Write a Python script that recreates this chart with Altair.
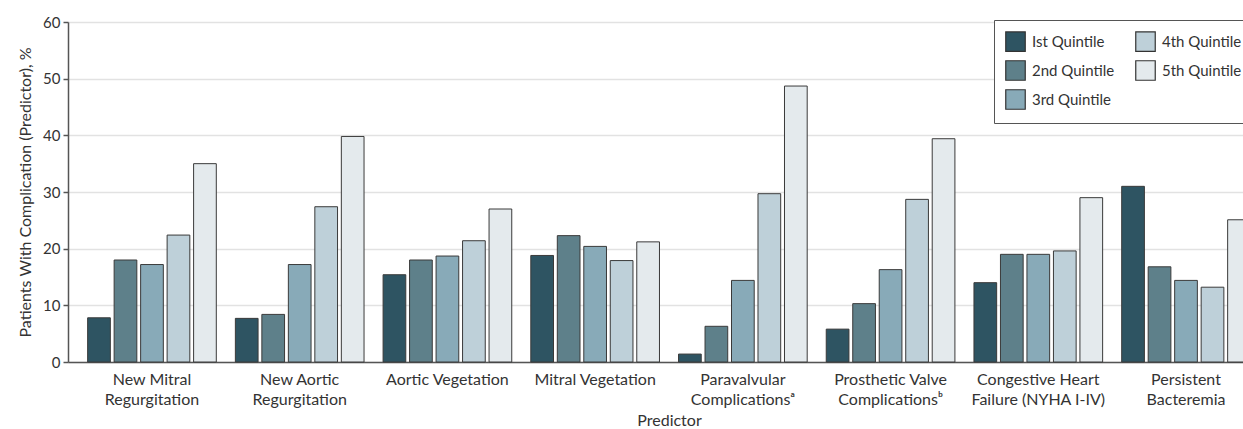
import altair as alt
import pandas as pd

# Predictor categories ("|" marks a line break in the axis label)
predictors = [
    "New Mitral|Regurgitation",
    "New Aortic|Regurgitation",
    "Aortic Vegetation",
    "Mitral Vegetation",
    "Paravalvular|Complications\u1d43",
    "Prosthetic Valve|Complications\u1d47",
    "Congestive Heart|Failure (NYHA I-IV)",
    "Persistent|Bacteremia",
]

quintiles = ["Ist Quintile", "2nd Quintile", "3rd Quintile", "4th Quintile", "5th Quintile"]

# Percent of patients with the complication, per predictor, quintiles 1-5
q1 = [7.8, 7.7, 15.4, 18.8, 1.4, 5.8, 14.0, 31.0]
q2 = [18.0, 8.4, 18.0, 22.3, 6.3, 10.3, 19.0, 16.8]
q3 = [17.2, 17.2, 18.7, 20.4, 14.4, 16.3, 19.0, 14.4]
q4 = [22.4, 27.4, 21.4, 17.9, 29.7, 28.7, 19.6, 13.2]
q5 = [35.0, 39.8, 27.0, 21.2, 48.7, 39.4, 29.0, 25.1]

colors = ["#2e5462", "#5e808a", "#88aab8", "#bed0d9", "#e4eaed"]

rows = []
for qi, series in enumerate([q1, q2, q3, q4, q5]):
    for p, v in zip(predictors, series):
        rows.append({"Predictor": p, "Quintile": quintiles[qi], "Value": v})
df = pd.DataFrame(rows)

FONT = "Lato, sans-serif"

bars = alt.Chart(df).mark_bar(stroke="#3a3a3a", strokeWidth=1).encode(
    x=alt.X(
        "Predictor:N",
        sort=predictors,
        scale=alt.Scale(range=[0, 1202], paddingInner=0.129, paddingOuter=0.133),
        axis=alt.Axis(
            title="Predictor",
            labelExpr="split(datum.label, '|')",
            labelAngle=0,
            labelFontSize=16,
            labelLineHeight=20,
            labelPadding=9,
            labelColor="#333333",
            ticks=False,
            domainColor="#555555",
            domainWidth=1.5,
            titleFontSize=16,
            titleFontWeight="normal",
            titleColor="#333333",
            titlePadding=5,
            grid=False,
        ),
    ),
    xOffset=alt.XOffset(
        "Quintile:N",
        sort=quintiles,
        scale=alt.Scale(paddingInner=0.143, paddingOuter=0),
    ),
    y=alt.Y(
        "Value:Q",
        scale=alt.Scale(domain=[0, 60], nice=False),
        axis=alt.Axis(
            title="Patients With Complication (Predictor), %",
            values=[0, 10, 20, 30, 40, 50, 60],
            tickSize=5,
            tickColor="#555555",
            tickWidth=1.5,
            domainColor="#555555",
            domainWidth=1.5,
            labelFontSize=15,
            labelPadding=3,
            labelColor="#333333",
            gridColor="#e2e2e2",
            gridWidth=1.5,
            titleFontSize=16,
            titleFontWeight="normal",
            titleColor="#333333",
            titlePadding=9,
        ),
    ),
    color=alt.Color(
        "Quintile:N",
        scale=alt.Scale(domain=quintiles, range=colors),
        legend=alt.Legend(
            title=None,
            orient="none",
            legendX=926,
            legendY=-2,
            columns=2,
            symbolType="square",
            symbolSize=380,
            symbolStrokeColor="#333333",
            symbolStrokeWidth=1.2,
            symbolOpacity=1,
            labelFontSize=15,
            labelColor="#333333",
            labelOffset=6,
            rowPadding=4,
            columnPadding=18,
            padding=11,
            strokeColor="#555555",
            fillColor="#ffffff",
        ),
    ),
)

chart = bars.properties(
    width=1175,
    height=340,
    autosize=alt.AutoSizeParams(type="none"),
    padding={"left": 68, "top": 22, "right": 0, "bottom": 67},
).configure(
    font=FONT,
).configure_view(
    stroke=None,
)

chart.save("out.html", embed_options={"renderer": "svg", "actions": False})
